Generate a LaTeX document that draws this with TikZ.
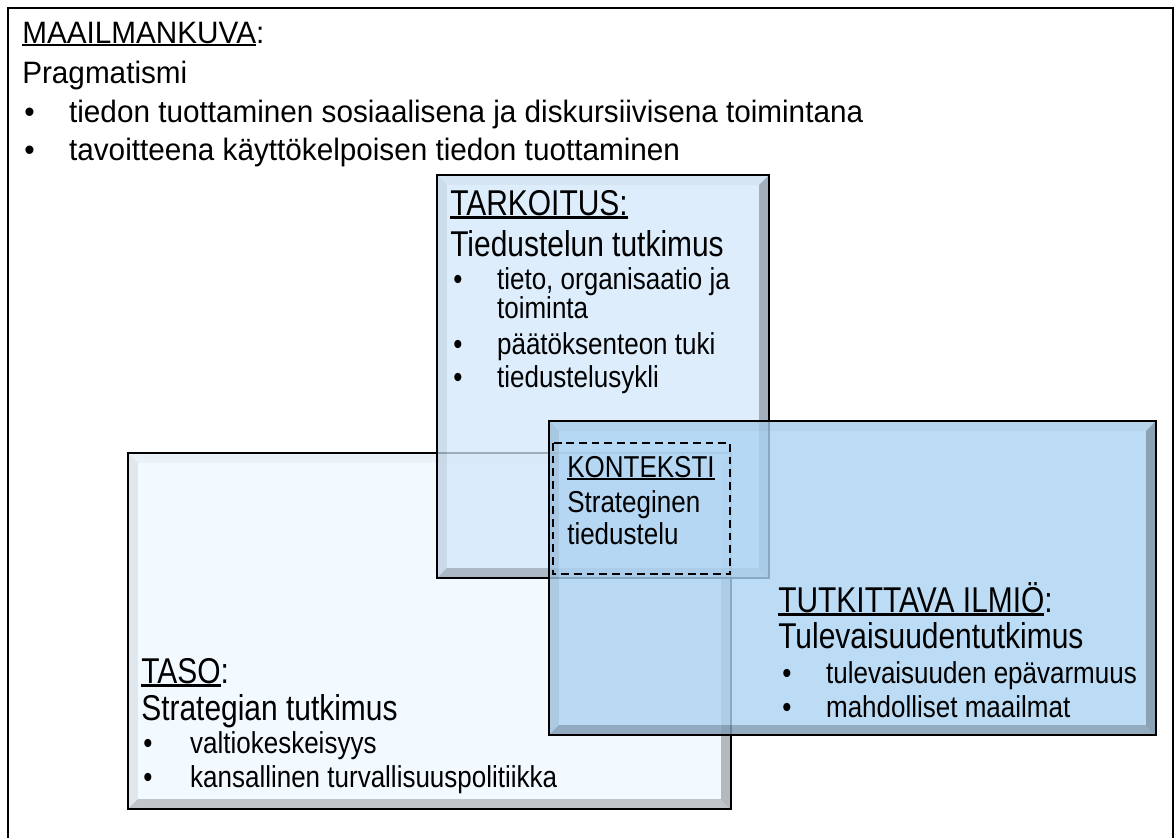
\documentclass[tikz,border=0pt]{standalone}
\usepackage{fontspec}
\setmainfont{Liberation Sans}[FakeStretch=0.86]
\newfontfamily\wideface{Liberation Sans}[FakeStretch=0.96]
\newfontfamily\headface{Liberation Sans}[FakeStretch=0.835]
\usetikzlibrary{positioning,calc}
\definecolor{tasofill}{HTML}{F3FAFF}
\definecolor{tarkfill}{HTML}{D2E7FB}
\definecolor{ilmiofill}{HTML}{ACD3F2}
\newlength\bevw
\setlength\bevw{7pt}
\newsavebox\undlbox
\newcommand\undl[1]{\sbox\undlbox{#1}\rlap{\rule[-0.1em]{\wd\undlbox}{0.06em}}\usebox\undlbox}
\newcommand\bitem[2][1.45em]{\makebox[#1][l]{\textbullet}#2}
\tikzset{
  boxline/.style={draw=black, line width=1.2pt},
  bevel/.style={path picture={
    \coordinate (nw) at (path picture bounding box.north west);
    \coordinate (ne) at (path picture bounding box.north east);
    \coordinate (sw) at (path picture bounding box.south west);
    \coordinate (se) at (path picture bounding box.south east);
    \fill[black, opacity=.07] (nw) -- (sw) -- ([shift={(\bevw,\bevw)}]sw) -- ([shift={(\bevw,-\bevw)}]nw) -- cycle;
    \fill[black, opacity=.03] (nw) -- (ne) -- ([shift={(-\bevw,-\bevw)}]ne) -- ([shift={(\bevw,-\bevw)}]nw) -- cycle;
    \fill[black, opacity=.26] (ne) -- (se) -- ([shift={(-\bevw,\bevw)}]se) -- ([shift={(-\bevw,-\bevw)}]ne) -- cycle;
    \fill[black, opacity=.21] (sw) -- (se) -- ([shift={(-\bevw,\bevw)}]se) -- ([shift={(\bevw,\bevw)}]sw) -- cycle;
  }},
  line/.style={anchor=base west, inner sep=0pt},
  big/.style={line, font=\headface\fontsize{25.5}{30}\selectfont},
  main/.style={line, font=\wideface\fontsize{22}{26}\selectfont},
  item/.style={line, font=\fontsize{21.5}{25}\selectfont},
}
\begin{document}
\begin{tikzpicture}[x=0.025cm, y=-0.025cm]
  \useasboundingbox[fill=white] (0,0) rectangle (1176,838);
  \draw[line width=1.2pt] (8,838) -- (8,8) -- (1173,8) -- (1173,838);
  % boxes
  \draw[boxline, fill=tasofill, bevel] (128,453) rectangle (731,809);
  \draw[boxline, fill=tarkfill, fill opacity=.75, bevel] (437,175) rectangle (769,578);
  \draw[boxline, fill=ilmiofill, fill opacity=.8, bevel] (549,421) rectangle (1156,735);
  \draw[line width=1.2pt, dash pattern=on 5.5pt off 3.5pt] (553,443) rectangle (730,574);
  % maailmankuva
  \node[main] (kuva-1) at (22,43) {\undl{MAAILMANKUVA}:};
  \node[main] (kuva-2) at (22,83) {Pragmatismi};
  \foreach \n/\y/\t in {3/122/{tiedon tuottaminen sosiaalisena ja diskursiivisena toimintana},
                        4/160/{tavoitteena käyttökelpoisen tiedon tuottaminen}}
    \node[main] (kuva-\n) at (24,\y) {\bitem{\t}};
  % tarkoitus
  \node[big] (tark-1) at (450,215) {\undl{TARKOITUS:}};
  \node[big] (tark-2) at (450,256) {Tiedustelun tutkimus};
  \node[item] (tark-3) at (453,289) {\bitem{tieto, organisaatio ja}};
  \node[item] (tark-4) at (453,318) {\hspace*{1.45em}toiminta};
  \node[item] (tark-5) at (453,354) {\bitem{päätöksenteon tuki}};
  \node[item] (tark-6) at (453,387) {\bitem{tiedustelusykli}};
  % konteksti
  \node[item] (kont-1) at (567,477) {\undl{KONTEKSTI}};
  \node[item] (kont-2) at (567,512) {Strateginen};
  \node[item] (kont-3) at (567,544) {tiedustelu};
  % tutkittava ilmio
  \node[big] (ilmio-1) at (778,612) {\undl{TUTKITTAVA ILMIÖ}:};
  \node[big] (ilmio-2) at (778,648) {Tulevaisuudentutkimus};
  \node[item] (ilmio-3) at (782,683) {\bitem{tulevaisuuden epävarmuus}};
  \node[item] (ilmio-4) at (782,717) {\bitem{mahdolliset maailmat}};
  % taso
  \node[big] (taso-1) at (141,683) {\undl{TASO}:};
  \node[big] (taso-2) at (141,720) {Strategian tutkimus};
  \node[item] (taso-3) at (143,753) {\bitem[1.55em]{valtiokeskeisyys}};
  \node[item] (taso-4) at (143,787) {\bitem[1.55em]{kansallinen turvallisuuspolitiikka}};
\end{tikzpicture}
\end{document}
